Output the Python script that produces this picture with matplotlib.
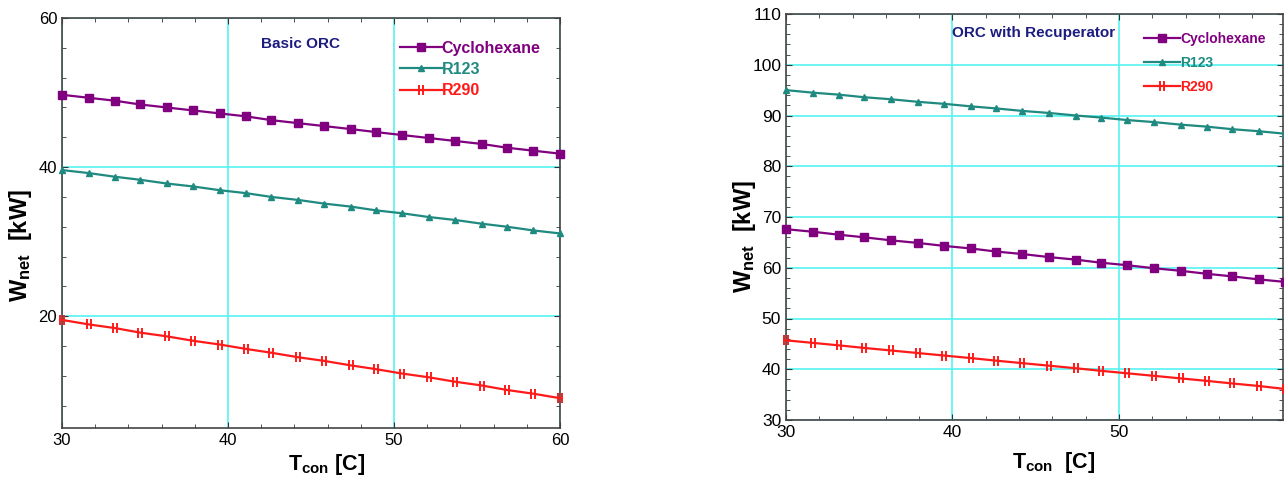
import matplotlib
matplotlib.use("Agg")
import matplotlib.pyplot as plt
from matplotlib.path import Path
from matplotlib.ticker import MultipleLocator

# -----------------------------
# Data
# -----------------------------
T_CON = [30.0, 31.6, 33.2, 34.7, 36.3, 37.9, 39.5, 41.1, 42.6, 44.2,
         45.8, 47.4, 48.9, 50.5, 52.1, 53.7, 55.3, 56.8, 58.4, 60.0]

BASIC_CYCLOHEXANE = [49.7, 49.3, 48.9, 48.4, 48.0, 47.6, 47.2, 46.8, 46.3, 45.9,
                     45.5, 45.1, 44.7, 44.3, 43.9, 43.5, 43.1, 42.6, 42.2, 41.8]
BASIC_R123 = [39.6, 39.2, 38.7, 38.3, 37.8, 37.4, 36.9, 36.5, 36.0, 35.6,
              35.1, 34.7, 34.2, 33.8, 33.3, 32.9, 32.4, 32.0, 31.5, 31.1]
BASIC_R290 = [19.5, 18.9, 18.4, 17.8, 17.3, 16.7, 16.2, 15.6, 15.1, 14.5,
              14.0, 13.4, 12.9, 12.3, 11.8, 11.2, 10.7, 10.1, 9.6, 9.0]

RECUP_CYCLOHEXANE = [67.6, 67.1, 66.5, 66.0, 65.4, 64.9, 64.3, 63.8, 63.2, 62.7,
                     62.1, 61.6, 61.0, 60.5, 59.9, 59.4, 58.8, 58.3, 57.7, 57.2]
RECUP_R123 = [95.0, 94.5, 94.1, 93.6, 93.2, 92.7, 92.3, 91.8, 91.4, 90.9,
              90.5, 90.0, 89.6, 89.1, 88.7, 88.2, 87.8, 87.3, 86.9, 86.4]
RECUP_R290 = [45.7, 45.2, 44.7, 44.2, 43.7, 43.2, 42.7, 42.2, 41.7, 41.2,
              40.7, 40.2, 39.7, 39.2, 38.7, 38.2, 37.7, 37.2, 36.7, 36.1]

FLUIDS = ["Cyclohexane", "R123", "R290"]

# -----------------------------
# Styles
# -----------------------------
PURPLE = "#800080"
TEAL = "#1f8a80"
RED = "#ff1a1a"
GRID = "#55f2f2"
NAVY = "#1c1c80"

# two short vertical bars, like the R290 marker in the original
BARS = Path([(-0.5, -1), (-0.5, 1), (0.5, -1), (0.5, 1)],
            [Path.MOVETO, Path.LINETO, Path.MOVETO, Path.LINETO])

STYLES = {
    "Cyclohexane": dict(color=PURPLE, marker="s", ms=6),
    "R123": dict(color=TEAL, marker="^", ms=5),
    "R290": dict(color=RED, marker=BARS, ms=7, mew=1.4),
}

plt.rcParams["font.family"] = ["Liberation Sans", "DejaVu Sans"]
plt.rcParams["mathtext.fontset"] = "custom"
plt.rcParams["mathtext.bf"] = "Liberation Sans:bold"
plt.rcParams["mathtext.rm"] = "Liberation Sans"


def style_axes(ax, xlim, ylim, ymajor, yminor, xlab, labsize):
    ax.set_xlim(*xlim)
    ax.set_ylim(*ylim)
    ax.xaxis.set_major_locator(MultipleLocator(10))
    ax.xaxis.set_minor_locator(MultipleLocator(2))
    ax.yaxis.set_major_locator(MultipleLocator(ymajor))
    ax.yaxis.set_minor_locator(MultipleLocator(yminor))
    ax.tick_params(which="both", direction="in", top=True, right=True,
                   labelsize=labsize, color="#333333")
    ax.tick_params(which="major", length=4)
    ax.tick_params(which="minor", length=3)
    ax.grid(True, which="major", color=GRID, lw=1.2)
    ax.set_axisbelow(True)
    for sp in ax.spines.values():
        sp.set_color("#444444")
        sp.set_linewidth(1.2)
    ax.set_xlabel(xlab, fontsize=15.5, fontweight="bold")
    ax.set_ylabel(r"$\mathbf{W_{net}}$  [kW]", fontsize=17, fontweight="bold")


def draw(ax, series, anchor, fontsize, spacing):
    for name, values in zip(FLUIDS, series):
        st = STYLES[name]
        ax.plot(T_CON, values, color=st["color"], lw=1.6, marker=st["marker"],
                ms=st["ms"], mew=st.get("mew", 1.0), clip_on=False,
                label=name, zorder=3)
    leg = ax.legend(loc="upper left", bbox_to_anchor=anchor, frameon=False,
                    fontsize=fontsize, handlelength=2.6, handletextpad=0.0,
                    labelspacing=spacing, borderaxespad=0.0, borderpad=0.0)
    for text, name in zip(leg.get_texts(), FLUIDS):
        text.set_color(STYLES[name]["color"])
        text.set_fontweight("bold")


fig = plt.figure(figsize=(12.84, 4.84), dpi=100)

# left panel: basic cycle
ax1 = fig.add_axes([62 / 1284, 1 - 428 / 484, 498 / 1284, 410 / 484])
draw(ax1, [BASIC_CYCLOHEXANE, BASIC_R123, BASIC_R290],
     anchor=(0.679, 0.945), fontsize=11.5, spacing=0.4)
style_axes(ax1, (30, 60), (5, 60), 20, 4,
           r"$\mathbf{T_{con}}$ [C]", 12)
ax1.set_yticks([20, 40, 60])
ax1.xaxis.set_label_coords(0.532, -0.058)
ax1.yaxis.set_label_coords(-0.056, 0.446)
ax1.text(0.478, 0.937, "Basic ORC", transform=ax1.transAxes, color=NAVY,
         fontsize=11, fontweight="bold", ha="center", va="center")

# right panel: cycle with recuperator
ax2 = fig.add_axes([786 / 1284, 1 - 420 / 484, 497 / 1284, 406 / 484])
draw(ax2, [RECUP_CYCLOHEXANE, RECUP_R123, RECUP_R290],
     anchor=(0.72, 0.955), fontsize=10, spacing=0.7)
style_axes(ax2, (30, 59.85), (30, 110), 10, 2,
           r"$\mathbf{T_{con}}$  [C]", 12.5)
ax2.xaxis.set_label_coords(0.538, -0.075)
ax2.yaxis.set_label_coords(-0.056, 0.453)
ax2.text(0.498, 0.953, "ORC with Recuperator", transform=ax2.transAxes,
         color=NAVY, fontsize=11, fontweight="bold", ha="center", va="center")

fig.savefig("out.png", dpi=100)
